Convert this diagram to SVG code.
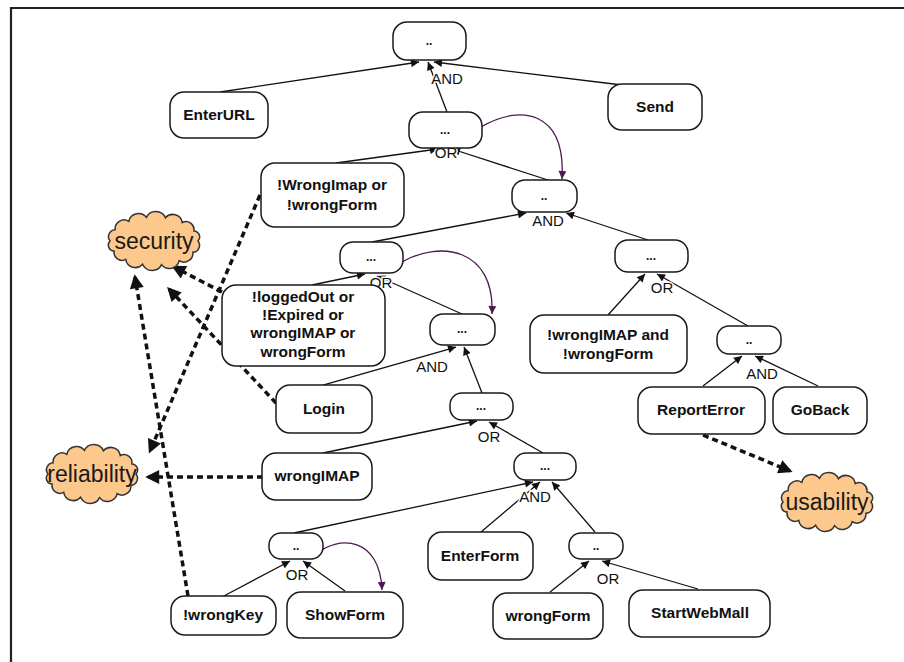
<svg xmlns="http://www.w3.org/2000/svg" width="904" height="662" viewBox="0 0 904 662">
  <style>
    .node rect { fill: #ffffff; stroke: #1a1a1a; stroke-width: 1.5; }
    .lbl { font-family: "Liberation Sans", Arial, sans-serif; font-size: 15.5px; font-weight: bold; fill: #111; text-anchor: middle; }
    .dots { font-family: "Liberation Sans", Arial, sans-serif; font-size: 12px; font-weight: bold; fill: #111; text-anchor: middle; }
    .op { font-family: "Liberation Sans", Arial, sans-serif; font-size: 15px; fill: #111; text-anchor: middle; stroke: #ffffff; stroke-width: 3px; paint-order: stroke; }
    .edge { fill: none; stroke: #111; stroke-width: 1.3; marker-end: url(#arr); }
    .prec { fill: none; stroke: #4a1a4f; stroke-width: 1.3; marker-end: url(#parr); }
    .contrib { fill: none; stroke: #111; stroke-width: 3.5; stroke-dasharray: 6 4; marker-end: url(#bigarr); }
    .cloud use { fill: #fdc88c; stroke: #333; stroke-width: 1.5; }
    .softgoal { font-family: "Liberation Sans", Arial, sans-serif; font-size: 23px; fill: #1a1a1a; text-anchor: middle; }
    .frame { stroke: #222; stroke-width: 2.2; fill: none; }
  </style>
  <defs>
    <marker id="arr" viewBox="0 0 10 10" refX="10" refY="5" markerWidth="9" markerHeight="8" markerUnits="userSpaceOnUse" orient="auto">
      <path d="M0,0 L10,5 L0,10 z" fill="#111"/>
    </marker>
    <marker id="parr" viewBox="0 0 10 10" refX="10" refY="5" markerWidth="10" markerHeight="8" markerUnits="userSpaceOnUse" orient="auto">
      <path d="M0,0 L10,5 L0,10 z" fill="#4a1a4f"/>
    </marker>
    <marker id="bigarr" viewBox="0 0 10 10" refX="8" refY="5" markerWidth="17" markerHeight="14" markerUnits="userSpaceOnUse" orient="auto">
      <path d="M0,0 L10,5 L0,10 z" fill="#111"/>
    </marker>
    <!-- scalloped cloud outline centred on 0,0 -->
    <path id="cloudShape" d="M44,0 A7,7 0 0,1 38.9,11.3 A9,9 0 0,1 25.2,19.7 A10,10 0 0,1 7.6,23.6 A10.5,10.5 0 0,1 -11.4,23.2 A9.7,9.7 0 0,1 -28.3,18.4 A8,8 0 0,1 -39.9,10.1 A6,6 0 0,1 -44,0 A7,7 0 0,1 -38.9,-11.3 A9,9 0 0,1 -25.2,-19.7 A10,10 0 0,1 -7.6,-23.6 A10.5,10.5 0 0,1 11.4,-23.2 A9.7,9.7 0 0,1 28.3,-18.4 A8,8 0 0,1 39.9,-10.1 A6,6 0 0,1 44,0 Z"/>
  </defs>

  <rect x="0" y="0" width="904" height="662" fill="#ffffff"/>
  <path class="frame" d="M11,662 L11,8 L904,8"/>

  <!-- solid decomposition links and precedence arcs -->
  <g id="connectors">
    <line class="edge" x1="220" y1="92" x2="419" y2="62"/>
    <line class="edge" x1="622" y1="85" x2="434" y2="62"/>
    <line class="edge" x1="447" y1="112" x2="428" y2="62"/>

    <line class="edge" x1="336" y1="163" x2="438" y2="149"/>
    <line class="edge" x1="548" y1="180" x2="452" y2="149"/>
    <path class="prec" d="M481,127 C520,104 566,110 562,179"/>

    <line class="edge" x1="372" y1="242" x2="526" y2="213"/>
    <line class="edge" x1="648" y1="240" x2="566" y2="213"/>

    <line class="edge" x1="312" y1="285" x2="365" y2="274"/>
    <line class="edge" x1="462" y1="314" x2="377" y2="276"/>
    <path class="prec" d="M402,262 C440,240 495,248 492,314"/>

    <line class="edge" x1="608" y1="315" x2="645" y2="274"/>
    <line class="edge" x1="748" y1="326" x2="657" y2="274"/>

    <line class="edge" x1="323" y1="385" x2="456" y2="347"/>
    <line class="edge" x1="482" y1="393" x2="464" y2="347"/>

    <line class="edge" x1="703" y1="386" x2="742" y2="356"/>
    <line class="edge" x1="818" y1="386" x2="755" y2="356"/>

    <line class="edge" x1="323" y1="453" x2="477" y2="421"/>
    <line class="edge" x1="543" y1="453" x2="489" y2="422"/>

    <line class="edge" x1="294" y1="533" x2="533" y2="482"/>
    <line class="edge" x1="481" y1="532" x2="540" y2="482"/>
    <line class="edge" x1="595" y1="532" x2="552" y2="482"/>

    <line class="edge" x1="550" y1="592" x2="589" y2="561"/>
    <line class="edge" x1="698" y1="589" x2="602" y2="561"/>

    <line class="edge" x1="222" y1="597" x2="290" y2="561"/>
    <line class="edge" x1="345" y1="591" x2="303" y2="561"/>
    <path class="prec" d="M313,556 C340,533 380,538 382,590"/>

    <!-- contributions to softgoals -->
    <line class="contrib" x1="260" y1="195" x2="150" y2="451"/>
    <line class="contrib" x1="222" y1="292" x2="174" y2="267"/>
    <line class="contrib" x1="276" y1="403" x2="169" y2="289"/>
    <line class="contrib" x1="188" y1="596" x2="135" y2="277"/>
    <line class="contrib" x1="263" y1="477" x2="148" y2="477"/>
    <line class="contrib" x1="703" y1="435" x2="790" y2="471"/>
  </g>

  <!-- operator labels -->
  <g id="operators">
    <text class="op" x="447" y="84">AND</text>
    <text class="op" x="446" y="158">OR</text>
    <text class="op" x="548" y="226">AND</text>
    <text class="op" x="381" y="288">OR</text>
    <text class="op" x="662" y="293">OR</text>
    <text class="op" x="432" y="372">AND</text>
    <text class="op" x="762" y="379">AND</text>
    <text class="op" x="489" y="442">OR</text>
    <text class="op" x="535" y="502">AND</text>
    <text class="op" x="297" y="580">OR</text>
    <text class="op" x="608" y="584">OR</text>
  </g>

  <!-- goal / task nodes -->
  <g id="n_root" class="node"><rect x="393" y="22" width="73" height="38" rx="14"/><text class="dots" x="429" y="45">..</text></g>
  <g id="n_enterurl" class="node"><rect x="170" y="92" width="98" height="46" rx="14"/><text class="lbl" x="219" y="120">EnterURL</text></g>
  <g id="n_send" class="node"><rect x="608" y="84" width="94" height="46" rx="14"/><text class="lbl" x="655" y="112">Send</text></g>
  <g id="n_or1" class="node"><rect x="409" y="112" width="73" height="36" rx="14"/><text class="dots" x="445" y="134">...</text></g>
  <g id="n_wrongimap_form" class="node"><rect x="261" y="163" width="143" height="64" rx="14"/><text class="lbl" x="332" y="190">!WrongImap or</text><text class="lbl" x="332" y="210">!wrongForm</text></g>
  <g id="n_and1" class="node"><rect x="512" y="180" width="65" height="32" rx="13"/><text class="dots" x="544" y="200">..</text></g>
  <g id="n_or2" class="node"><rect x="340" y="242" width="63" height="31" rx="13"/><text class="dots" x="371" y="261">...</text></g>
  <g id="n_or3" class="node"><rect x="615" y="240" width="73" height="32" rx="13"/><text class="dots" x="651" y="260">...</text></g>
  <g id="n_loggedout" class="node"><rect x="222" y="285" width="163" height="81" rx="14"/><text class="lbl" x="303" y="302">!loggedOut or</text><text class="lbl" x="303" y="320">!Expired or</text><text class="lbl" x="303" y="338">wrongIMAP or</text><text class="lbl" x="303" y="357">wrongForm</text></g>
  <g id="n_and2" class="node"><rect x="430" y="314" width="65" height="31" rx="13"/><text class="dots" x="462" y="333">...</text></g>
  <g id="n_notwrong" class="node"><rect x="530" y="315" width="157" height="58" rx="14"/><text class="lbl" x="608" y="340">!wrongIMAP and</text><text class="lbl" x="608" y="359">!wrongForm</text></g>
  <g id="n_and4" class="node"><rect x="717" y="326" width="64" height="28" rx="12"/><text class="dots" x="749" y="344">..</text></g>
  <g id="n_login" class="node"><rect x="276" y="385" width="96" height="48" rx="14"/><text class="lbl" x="324" y="414">Login</text></g>
  <g id="n_reporterror" class="node"><rect x="638" y="387" width="127" height="47" rx="14"/><text class="lbl" x="701" y="415">ReportError</text></g>
  <g id="n_goback" class="node"><rect x="773" y="387" width="94" height="47" rx="14"/><text class="lbl" x="820" y="415">GoBack</text></g>
  <g id="n_or4" class="node"><rect x="450" y="393" width="63" height="27" rx="12"/><text class="dots" x="481" y="410">...</text></g>
  <g id="n_wrongimap" class="node"><rect x="262" y="453" width="110" height="47" rx="14"/><text class="lbl" x="317" y="481">wrongIMAP</text></g>
  <g id="n_and3" class="node"><rect x="514" y="453" width="62" height="27" rx="12"/><text class="dots" x="545" y="470">...</text></g>
  <g id="n_enterform" class="node"><rect x="428" y="532" width="105" height="48" rx="14"/><text class="lbl" x="480" y="561">EnterForm</text></g>
  <g id="n_or5" class="node"><rect x="269" y="533" width="54" height="26" rx="12"/><text class="dots" x="296" y="550">..</text></g>
  <g id="n_or6" class="node"><rect x="569" y="533" width="54" height="26" rx="12"/><text class="dots" x="596" y="550">..</text></g>
  <g id="n_wrongkey" class="node"><rect x="171" y="596" width="105" height="39" rx="14"/><text class="lbl" x="223" y="620">!wrongKey</text></g>
  <g id="n_showform" class="node"><rect x="287" y="592" width="116" height="46" rx="14"/><text class="lbl" x="345" y="620">ShowForm</text></g>
  <g id="n_wrongform" class="node"><rect x="493" y="593" width="110" height="46" rx="14"/><text class="lbl" x="548" y="621">wrongForm</text></g>
  <g id="n_startwebmall" class="node"><rect x="629" y="590" width="141" height="47" rx="14"/><text class="lbl" x="700" y="618">StartWebMall</text></g>

  <!-- softgoals -->
  <g id="sg_security" class="cloud" transform="translate(154,241)"><use href="#cloudShape"/><text class="softgoal" x="0" y="8">security</text></g>
  <g id="sg_reliability" class="cloud" transform="translate(92,474)"><use href="#cloudShape"/><text class="softgoal" x="0" y="8">reliability</text></g>
  <g id="sg_usability" class="cloud" transform="translate(827,502)"><use href="#cloudShape"/><text class="softgoal" x="0" y="8">usability</text></g>
</svg>
